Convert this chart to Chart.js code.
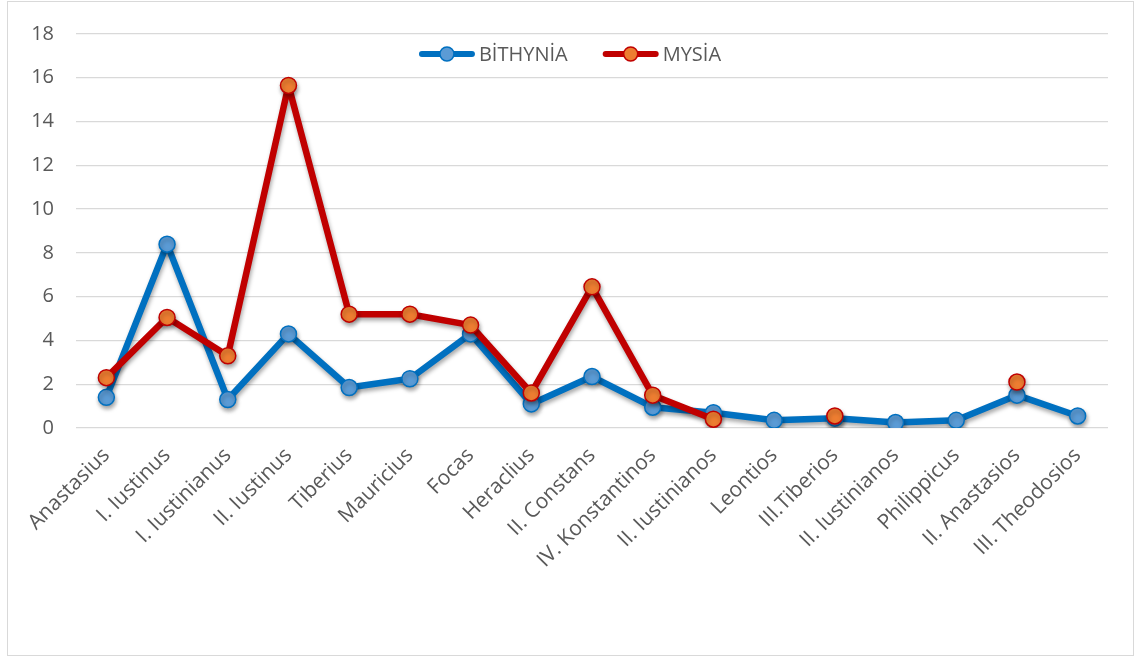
<!DOCTYPE html>
<html>
<head>
<meta charset="utf-8">
<script src="https://cdn.jsdelivr.net/npm/chart.js@4.4.0/dist/chart.umd.min.js"></script>
<style>
  body { margin: 0; background: #fff; }
  #frame { position: absolute; left: 7px; top: 1px; width: 1125px; height: 653px; border: 1px solid #d9d9d9; }
  #chart { position: absolute; left: 0; top: 0; }
</style>
</head>
<body>
<div id="frame"></div>
<canvas id="chart" width="1140" height="659"></canvas>
<script>
// Data
var emperors = ['Anastasius', 'I. Iustinus', 'I. Iustinianus', 'II. Iustinus', 'Tiberius', 'Mauricius', 'Focas',
  'Heraclius', 'II. Constans', 'IV. Konstantinos', 'II. Iustinianos', 'Leontios', 'III.Tiberios',
  'II. Iustinianos', 'Philippicus', 'II. Anastasios', 'III. Theodosios'];
var bithynia = [1.4, 8.4, 1.3, 4.3, 1.85, 2.25, 4.3, 1.1, 2.35, 0.95, 0.7, 0.35, 0.45, 0.25, 0.35, 1.5, 0.55];
var mysia = [2.3, 5.05, 3.3, 15.65, 5.2, 5.2, 4.7, 1.6, 6.45, 1.5, 0.4, null, 0.55, null, null, 2.1, null];
var yTicks = [0, 2, 4, 6, 8, 10, 12, 14, 16, 18];

var FONT = '"Open Sans", Lato, sans-serif';
var TEXT = '#595959';

// soft shadow under the lines and markers, like the office chart
var shadowPlugin = {
  id: 'shadow',
  beforeDatasetsDraw: function (chart) {
    var ctx = chart.ctx;
    ctx.save();
    ctx.shadowColor = 'rgba(0,0,0,0.35)';
    ctx.shadowBlur = 4;
    ctx.shadowOffsetX = 1;
    ctx.shadowOffsetY = 3;
  },
  afterDatasetsDraw: function (chart) {
    chart.ctx.restore();
  }
};

// legend inside the plot area: line + marker + name
var legendPlugin = {
  id: 'innerLegend',
  afterDraw: function (chart) {
    var ctx = chart.ctx;
    var items = [
      { text: 'BİTHYNİA', line: '#0070C0', fill: '#5B9BD5', border: '#0070C0' },
      { text: 'MYSİA', line: '#C00000', fill: '#ED7D31', border: '#C00000' }
    ];
    ctx.save();
    ctx.font = '20px ' + FONT;
    var sym = 56, gap = 4, between = 35;
    var total = 0;
    items.forEach(function (it, i) {
      it.w = ctx.measureText(it.text).width;
      total += sym + gap + it.w + (i ? between : 0);
    });
    var x = chart.width / 2 - total / 2;
    var y = 54;
    items.forEach(function (it, i) {
      if (i) x += between;
      ctx.strokeStyle = it.line;
      ctx.lineWidth = 6;
      ctx.lineCap = 'round';
      ctx.beginPath();
      ctx.moveTo(x + 3, y);
      ctx.lineTo(x + sym - 3, y);
      ctx.stroke();
      ctx.beginPath();
      ctx.arc(x + sym / 2, y, 7, 0, Math.PI * 2);
      ctx.fillStyle = it.fill;
      ctx.fill();
      ctx.lineWidth = 1.5;
      ctx.strokeStyle = it.border;
      ctx.stroke();
      x += sym + gap;
      ctx.fillStyle = TEXT;
      ctx.textBaseline = 'middle';
      ctx.fillText(it.text, x, y + 1);
      x += it.w;
    });
    ctx.restore();
  }
};

var ctx = document.getElementById('chart').getContext('2d');
var chart = new Chart(ctx, {
  type: 'line',
  data: {
    labels: emperors,
    datasets: [
      {
        label: 'BİTHYNİA',
        data: bithynia,
        borderColor: '#0070C0',
        borderWidth: 6.5,
        borderJoinStyle: 'round',
        borderCapStyle: 'round',
        pointRadius: 8,
        pointBackgroundColor: '#5B9BD5',
        pointBorderColor: '#0070C0',
        pointBorderWidth: 1.5,
        tension: 0,
        order: 1
      },
      {
        label: 'MYSİA',
        data: mysia,
        borderColor: '#C00000',
        borderWidth: 6.5,
        borderJoinStyle: 'round',
        borderCapStyle: 'round',
        pointRadius: 8,
        pointBackgroundColor: '#ED7D31',
        pointBorderColor: '#C00000',
        pointBorderWidth: 1.5,
        tension: 0,
        spanGaps: false,
        order: 0
      }
    ]
  },
  options: {
    responsive: false,
    animation: false,
    layout: { padding: { left: 0, right: 32, top: 21, bottom: 0 } },
    plugins: {
      legend: { display: false },
      tooltip: { enabled: false }
    },
    scales: {
      x: {
        offset: true,
        grid: { display: false, drawTicks: false },
        border: { display: false },
        ticks: {
          color: TEXT,
          font: { family: FONT, size: 21 },
          minRotation: 45,
          maxRotation: 45,
          autoSkip: false,
          padding: 15
        },
        afterFit: function (scale) { scale.height = 231; }
      },
      y: {
        min: 0,
        max: 18,
        afterBuildTicks: function (scale) {
          scale.ticks = yTicks.map(function (v) { return { value: v }; });
        },
        grid: { color: '#d9d9d9', lineWidth: 1.3, drawTicks: false },
        border: { display: false },
        ticks: {
          color: TEXT,
          font: { family: FONT, size: 20 },
          padding: 22
        },
        afterFit: function (scale) { scale.width = 76; }
      }
    }
  },
  plugins: [shadowPlugin, legendPlugin]
});
</script>
</body>
</html>
